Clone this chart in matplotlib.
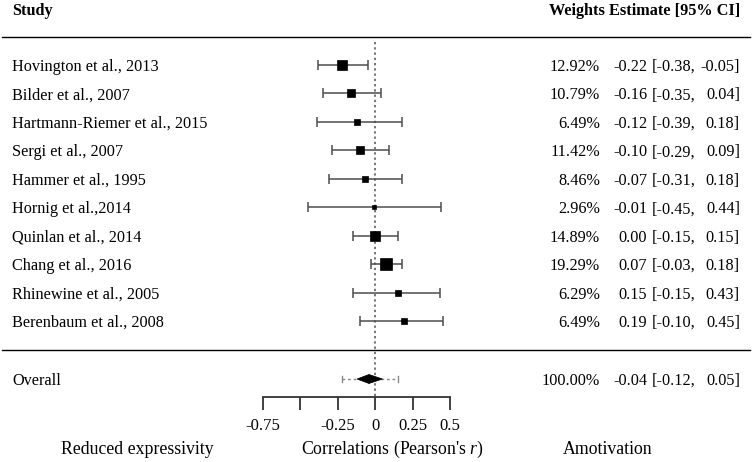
import matplotlib
matplotlib.use("Agg")
import matplotlib.pyplot as plt
from matplotlib.transforms import blended_transform_factory
from matplotlib.patches import Polygon

plt.rcParams['font.family'] = ['Liberation Serif', 'DejaVu Serif']
plt.rcParams['mathtext.fontset'] = 'custom'
plt.rcParams['mathtext.rm'] = 'Liberation Serif'
plt.rcParams['mathtext.it'] = 'Liberation Serif:italic'

studies = ["Hovington et al., 2013", "Bilder et al., 2007", "Hartmann-Riemer et al., 2015",
           "Sergi et al., 2007", "Hammer et al., 1995", "Hornig et al.,2014",
           "Quinlan et al., 2014", "Chang et al., 2016", "Rhinewine et al., 2005",
           "Berenbaum et al., 2008"]
weights = [12.92, 10.79, 6.49, 11.42, 8.46, 2.96, 14.89, 19.29, 6.29, 6.49]
estimates = [-0.22, -0.16, -0.12, -0.10, -0.07, -0.01, 0.00, 0.07, 0.15, 0.19]
ci_low = [-0.38, -0.35, -0.39, -0.29, -0.31, -0.45, -0.15, -0.03, -0.15, -0.10]
ci_high = [-0.05, 0.04, 0.18, 0.09, 0.18, 0.44, 0.15, 0.18, 0.43, 0.45]

overall_weight = 100.00
overall_est = -0.04
overall_low = -0.12
overall_high = 0.05
pi_low = -0.22
pi_high = 0.15

tick_values = [-0.75, -0.5, -0.25, 0, 0.25, 0.5]
tick_labels = ["-0.75", "", "-0.25", "0", "0.25", "0.5"]

W, H = 752, 462
fig = plt.figure(figsize=(W / 100, H / 100), dpi=100)
fig.patch.set_facecolor('white')
ax = fig.add_axes([0, 0, 1, 1])
x0_px = 375.0
ppu = 150.0
ax.set_xlim((0 - x0_px) / ppu, (W - x0_px) / ppu)
ax.set_ylim(H, 0)
ax.axis('off')

tr = blended_transform_factory(ax.transAxes, ax.transData)
FS = 11.7
FSB = 12.8
VA = 'center_baseline'

row0, dy = 65.0, 28.44
ys = [row0 + i * dy for i in range(len(studies))]
y_over = 379.0

# header
ax.text(12 / W, 9, "Study", transform=tr, fontsize=FS, fontweight='bold', va=VA, ha='left')
ax.text(740 / W, 9, "Weights Estimate [95% CI]", transform=tr, fontsize=FS,
        fontweight='bold', va=VA, ha='right')
ax.plot([2 / W, 750 / W], [37, 37], transform=tr, color='black', lw=1.0)
ax.plot([2 / W, 750 / W], [350, 350], transform=tr, color='black', lw=1.0)

# reference line
ax.plot([0, 0], [42, 397], color='#777777', lw=1.4, ls=(0, (1.2, 1.5)))

wmin, wmax = min(weights), max(weights)
for i, s in enumerate(studies):
    y = ys[i]
    ax.errorbar(estimates[i], y, xerr=[[estimates[i] - ci_low[i]], [ci_high[i] - estimates[i]]],
                fmt='none', ecolor='#4d4d4d', elinewidth=1.1, capsize=3.8, capthick=1.1)
    size_px = 4 + (weights[i] - wmin) / (wmax - wmin) * 8.5
    ax.plot(estimates[i], y, marker='s', ms=size_px * 0.72, color='black', mec='black', mew=0.5)
    ax.text(12 / W, y, s, transform=tr, fontsize=FS, va=VA, ha='left')
    ax.text(600 / W, y, f"{weights[i]:.2f}%", transform=tr, fontsize=FS, va=VA, ha='right')
    ax.text(647 / W, y, f"{estimates[i]:.2f}", transform=tr, fontsize=FS, va=VA, ha='right')
    ax.text(652 / W, y, f"[{ci_low[i]:.2f},", transform=tr, fontsize=FS, va=VA, ha='left')
    ax.text(740 / W, y, f"{ci_high[i]:.2f}]", transform=tr, fontsize=FS, va=VA, ha='right')

# overall
ax.plot([pi_low, pi_high], [y_over, y_over], color='#888888', lw=1.0, ls=(0, (2, 2)))
for xv in (pi_low, pi_high):
    ax.plot([xv, xv], [y_over - 3.2, y_over + 3.2], color='#888888', lw=1.0)
diamond = Polygon([[overall_low, y_over], [overall_est, y_over - 4.5],
                   [overall_high, y_over], [overall_est, y_over + 4.5]],
                  closed=True, facecolor='black', edgecolor='black', lw=0.5, zorder=5)
ax.add_patch(diamond)
ax.text(12 / W, y_over, "Overall", transform=tr, fontsize=FS, va=VA, ha='left')
ax.text(600 / W, y_over, f"{overall_weight:.2f}%", transform=tr, fontsize=FS, va=VA, ha='right')
ax.text(647 / W, y_over, f"{overall_est:.2f}", transform=tr, fontsize=FS, va=VA, ha='right')
ax.text(652 / W, y_over, f"[{overall_low:.2f},", transform=tr, fontsize=FS, va=VA, ha='left')
ax.text(740 / W, y_over, f"{overall_high:.2f}]", transform=tr, fontsize=FS, va=VA, ha='right')

# x axis
ax2 = fig.add_axes([(x0_px + tick_values[0] * ppu) / W, (H - 397) / H,
                    (tick_values[-1] - tick_values[0]) * ppu / W, 0.001])
ax2.set_xlim(tick_values[0], tick_values[-1])
ax2.set_facecolor('none')
for sp in ('top', 'left', 'right'):
    ax2.spines[sp].set_visible(False)
ax2.spines['bottom'].set_color('#333333')
ax2.spines['bottom'].set_linewidth(1.3)
ax2.set_yticks([])
ax2.set_xticks(tick_values)
ax2.set_xticklabels(tick_labels, fontsize=12)
ax2.tick_params(axis='x', direction='out', length=9, width=1.3, color='#333333', pad=6)

# bottom labels
yb = 449
ax.text(137 / W, yb, "Reduced expressivity", transform=tr, fontsize=FSB, va='center', ha='center')
ax.text(392 / W, yb, "Correlations (Pearson's $\\it{r}$)", transform=tr, fontsize=FSB, va='center', ha='center')
ax.text(608 / W, yb, "Amotivation", transform=tr, fontsize=FSB, va='center', ha='center')

fig.savefig("out.png", dpi=100, facecolor='white')
